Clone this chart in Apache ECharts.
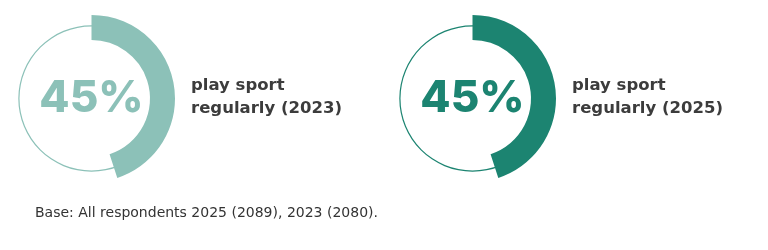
<!DOCTYPE html>
<html><head><meta charset="utf-8">
<script src="https://cdn.jsdelivr.net/npm/echarts@6/dist/echarts.min.js"></script>
<style>html,body{margin:0;padding:0;background:#fff}#c{width:768px;height:250px}</style>
</head><body><div id="c"></div>
<script>
const years = ['2023', '2025'];
const values = [45, 45];
const labelText = 'play sport\nregularly';
const footnote = 'Base: All respondents 2025 (2089), 2023 (2080).';
const colors = ['#8cc1b8', '#1c8471'];

const centersX = [91.5, 472.5];
const centerY = 98.5;
const series = [];
const titles = [];
years.forEach((y, i) => {
  series.push({
    type: 'pie', silent: true, radius: [72, 73.2], center: [centersX[i], centerY],
    label: {show: false}, labelLine: {show: false},
    itemStyle: {color: colors[i]}, data: [{value: 100}]
  });
  series.push({
    type: 'pie', silent: true, radius: [58.5, 83.5], center: [centersX[i], centerY],
    startAngle: 90, clockwise: true,
    labelLine: {show: false},
    data: [
      {value: values[i], itemStyle: {color: colors[i]},
       label: {show: true, position: 'center', formatter: values[i] + '%',
               fontFamily: 'Inter', fontWeight: 800, fontSize: 44, color: colors[i]}},
      {value: 100 - values[i], itemStyle: {color: 'rgba(0,0,0,0)'}, label: {show: false}}
    ]
  });
  titles.push({
    text: labelText + ' (' + y + ')', left: centersX[i] + 99.5, top: 74, padding: 0,
    textStyle: {fontFamily: 'DejaVu Sans', fontWeight: 'bold', fontSize: 16.5, lineHeight: 23, color: '#3c3c3c'}
  });
});
titles.push({
  text: footnote, left: 35, top: 205, padding: 0,
  textStyle: {fontFamily: 'DejaVu Sans', fontWeight: 'normal', fontSize: 14, lineHeight: 17, color: '#333'}
});

const chart = echarts.init(document.getElementById('c'));
chart.setOption({animation: false, title: titles, series: series});
</script></body></html>
